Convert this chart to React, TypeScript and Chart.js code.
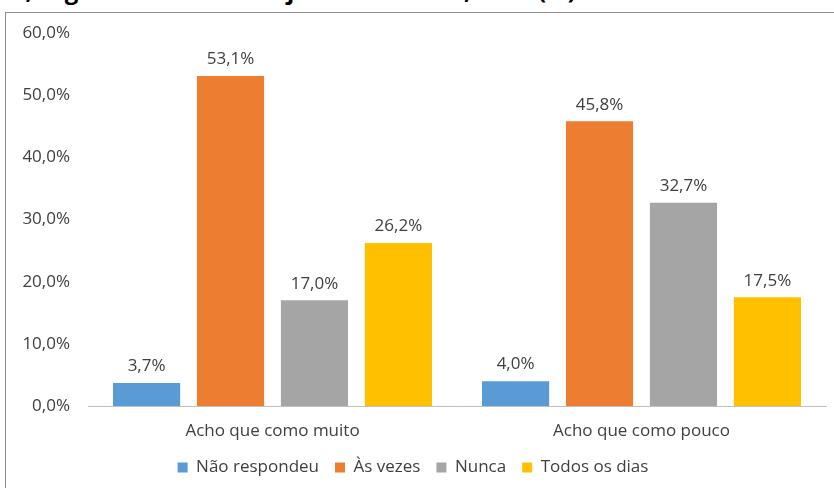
import React, { useEffect, useRef } from "react";
import { Chart, registerables } from "chart.js";

Chart.register(...registerables);

const categories = ["Acho que como muito", "Acho que como pouco"];
const seriesNames = ["Não respondeu", "Às vezes", "Nunca", "Todos os dias"];
const naoRespondeu = [3.7, 4.0];
const asVezes = [53.1, 45.8];
const nunca = [17.0, 32.7];
const todosOsDias = [26.2, 17.5];
const seriesColors = ["#5B9BD5", "#ED7D31", "#A5A5A5", "#FFC000"];
const yTicks = [0, 10, 20, 30, 40, 50, 60];
const titleText = "Tabela 3 - Alimentação, segundo o hábito de jantar em casa, 2019 (%)";

const FONT = "'Open Sans', 'Noto Sans', sans-serif";

const fmt = (v: number) => v.toFixed(1).replace(".", ",") + "%";

const valueLabels = {
  id: "valueLabels",
  afterDatasetsDraw(chart: any) {
    const ctx = chart.ctx;
    ctx.save();
    ctx.font = `17px ${FONT}`;
    ctx.fillStyle = "#404040";
    ctx.textAlign = "center";
    ctx.textBaseline = "bottom";
    chart.data.datasets.forEach((ds: any, i: number) => {
      const meta = chart.getDatasetMeta(i);
      meta.data.forEach((bar: any, j: number) => {
        ctx.fillText(fmt(ds.data[j]), bar.x, bar.y - 8);
      });
    });
    ctx.restore();
  },
};

export default function App() {
  const ref = useRef<HTMLCanvasElement | null>(null);
  useEffect(() => {
    if (!ref.current) return;
    const seriesData = [naoRespondeu, asVezes, nunca, todosOsDias];
    const chart = new Chart(ref.current, {
      type: "bar",
      data: {
        labels: categories,
        datasets: seriesNames.map((name, i) => ({
          label: name,
          data: seriesData[i],
          backgroundColor: seriesColors[i],
          borderWidth: 0,
          categoryPercentage: 0.91,
          barPercentage: 0.8,
        })),
      },
      options: {
        animation: false,
        responsive: false,
        maintainAspectRatio: false,
        layout: { padding: { left: 0, right: 8, top: 33, bottom: 2 } },
        plugins: {
          legend: {
            position: "bottom",
            labels: {
              font: { family: FONT, size: 17 },
              color: "#404040",
              boxWidth: 10,
              boxHeight: 10,
              padding: 16,
            },
          },
          tooltip: { enabled: false },
          title: { display: false },
        },
        scales: {
          x: {
            grid: { display: false, drawTicks: false },
            border: { display: true, color: "#BFBFBF", width: 1 },
            afterFit: (scale: any) => {
              scale.height = 37;
            },
            ticks: {
              font: { family: FONT, size: 17 },
              color: "#404040",
              padding: 15,
            },
          },
          y: {
            min: 0,
            max: 60,
            afterBuildTicks: (scale: any) => {
              scale.ticks = yTicks.map((v) => ({ value: v }));
            },
            afterFit: (scale: any) => {
              scale.width = 88;
            },
            grid: { display: false, drawTicks: false },
            border: { display: false },
            ticks: {
              font: { family: FONT, size: 17 },
              color: "#404040",
              padding: 18,
              callback: (v: any) => fmt(Number(v)),
            },
          },
        },
      },
      plugins: [valueLabels],
    });
    return () => chart.destroy();
  }, []);

  return (
    <div style={{ position: "fixed", left: 0, top: 0, width: 834, height: 488, overflow: "hidden", background: "#fff" }}>
      <div
        style={{
          position: "absolute",
          right: 258,
          top: -24,
          whiteSpace: "nowrap",
          font: `bold 24px ${FONT}`,
          lineHeight: "28px",
          color: "#000",
        }}
      >
        {titleText}
      </div>
      <div
        style={{
          position: "absolute",
          left: 5,
          top: 12,
          width: 900,
          height: 600,
          border: "1px solid #8C8C8C",
        }}
      />
      <canvas ref={ref} width={834} height={488} style={{ position: "absolute", left: 0, top: 0 }} />
    </div>
  );
}
